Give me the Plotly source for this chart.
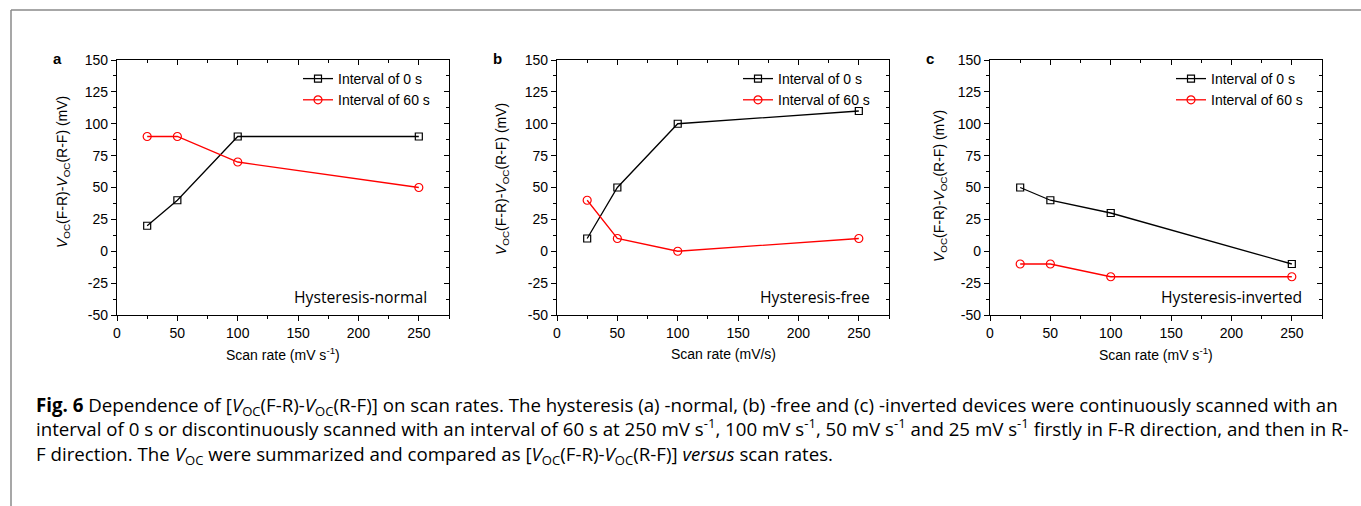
import plotly.graph_objects as go

W, H = 1361, 506

scan_rate = [25, 50, 100, 250]
normal_0s = [20, 40, 90, 90]
normal_60s = [90, 90, 70, 50]
free_0s = [10, 50, 100, 110]
free_60s = [40, 10, 0, 10]
inverted_0s = [50, 40, 30, -10]
inverted_60s = [-10, -10, -20, -20]

x_tick_vals = [0, 50, 100, 150, 200, 250]
x_tick_text = ["0", "50", "100", "150", "200", "250"]
y_tick_vals = [-50, -25, 0, 25, 50, 75, 100, 125, 150]
y_tick_text = ["-50", "-25", "0", "25", "50", "75", "100", "125", "150"]

panel_letters = ["a", "b", "c"]
panel_notes = ["Hysteresis-normal", "Hysteresis-free", "Hysteresis-inverted"]
x_titles = ["Scan rate (mV s<sup>-1</sup>)", "Scan rate (mV/s)", "Scan rate (mV s<sup>-1</sup>)"]
series_names = ["Interval of 0 s", "Interval of 60 s"]
y_title = "<i>V</i><sub>OC</sub>(F-R)-<i>V</i><sub>OC</sub>(R-F) (mV)"
x_range = [0, 275]
y_range = [-50, 150]

data = [(normal_0s, normal_60s), (free_0s, free_60s), (inverted_0s, inverted_60s)]

# pixel layout
left_px = [117, 557, 990]
plot_w = 332
top_px, bot_px = 60, 315
ytitle_x = [63, 502, 940]
ytitle_yc = [172, 179, 186]

def px(x):
    return x / W

def py(y):
    return 1 - y / H

FONT = "Arial, Liberation Sans, sans-serif"
CAP_FONT = "Open Sans, Noto Sans, sans-serif"

fig = go.Figure()
layout = dict(
    autosize=True, margin=dict(l=0, r=0, t=0, b=0, pad=0, autoexpand=False),
    paper_bgcolor="white", plot_bgcolor="white",
    font=dict(family=FONT, size=14, color="black"),
    showlegend=True,
)
annotations = []

for i in range(3):
    n = i + 1
    xa = "x" if n == 1 else f"x{n}"
    ya = "y" if n == 1 else f"y{n}"
    xo = f"x{n+3}"
    yo = f"y{n+3}"
    lg = "legend" if n == 1 else f"legend{n}"
    d0, d60 = data[i]
    fig.add_trace(go.Scatter(x=scan_rate, y=d0, mode="lines+markers", name=series_names[0],
                             xaxis=xa, yaxis=ya, legend=lg,
                             line=dict(color="black", width=1.3),
                             marker=dict(symbol="square-open", size=7, color="black", line=dict(width=1.2))))
    fig.add_trace(go.Scatter(x=scan_rate, y=d60, mode="lines+markers", name=series_names[1],
                             xaxis=xa, yaxis=ya, legend=lg,
                             line=dict(color="#FF0000", width=1.3),
                             marker=dict(symbol="circle-open", size=8, color="#FF0000", line=dict(width=1.2))))
    # invisible trace for mirrored tick axes
    fig.add_trace(go.Scatter(x=scan_rate, y=d0, mode="markers", xaxis=xo, yaxis=yo,
                             marker=dict(opacity=0), showlegend=False, hoverinfo="skip"))

    dom_x = [px(left_px[i]), px(left_px[i] + plot_w)]
    dom_y = [py(bot_px), py(top_px)]
    key_x = "xaxis" if n == 1 else f"xaxis{n}"
    key_y = "yaxis" if n == 1 else f"yaxis{n}"
    layout[key_x] = dict(domain=dom_x, anchor=ya, range=x_range, automargin=False,
                         tickmode="array", tickvals=x_tick_vals, ticktext=x_tick_text,
                         showgrid=False, zeroline=False, showline=True, linecolor="black", linewidth=1.3,
                         mirror=True, ticks="outside", ticklen=5, tickwidth=1.2, tickcolor="black",
                         minor=dict(dtick=25, tick0=0, ticks="outside", ticklen=3, tickwidth=1, tickcolor="black"),
                         tickfont=dict(size=14))
    layout[key_y] = dict(domain=dom_y, anchor=xa, range=y_range, automargin=False,
                         tickmode="array", tickvals=y_tick_vals, ticktext=y_tick_text,
                         showgrid=False, zeroline=False, showline=True, linecolor="black", linewidth=1.3,
                         mirror=True, ticks="outside", ticklen=5, tickwidth=1.2, tickcolor="black",
                         minor=dict(dtick=12.5, tick0=0, ticks="outside", ticklen=3, tickwidth=1, tickcolor="black"),
                         tickfont=dict(size=14))
    layout[f"xaxis{n+3}"] = dict(overlaying=xa, anchor=ya, side="top", range=x_range, automargin=False,
                                 tickmode="array", tickvals=x_tick_vals,
                                 showgrid=False, zeroline=False, showline=False, showticklabels=False,
                                 ticks="inside", ticklen=5, tickwidth=1.2, tickcolor="black",
                                 minor=dict(dtick=25, tick0=0, ticks="inside", ticklen=3, tickwidth=1, tickcolor="black"))
    layout[f"yaxis{n+3}"] = dict(overlaying=ya, anchor=xa, side="right", range=y_range, automargin=False,
                                 tickmode="array", tickvals=y_tick_vals,
                                 showgrid=False, zeroline=False, showline=False, showticklabels=False,
                                 ticks="inside", ticklen=5, tickwidth=1.2, tickcolor="black",
                                 minor=dict(dtick=12.5, tick0=0, ticks="inside", ticklen=3, tickwidth=1, tickcolor="black"))
    layout[lg] = dict(x=px(left_px[i] + 181), y=py(63), xanchor="left", yanchor="top",
                      bgcolor="rgba(0,0,0,0)", borderwidth=0, font=dict(size=14, family=FONT),
                      tracegroupgap=0, itemwidth=30)

    # panel letter
    annotations.append(dict(text="<b>" + panel_letters[i] + "</b>", x=px(left_px[i] - 60), y=py(58),
                            xref="paper", yref="paper", xanchor="center", yanchor="middle",
                            showarrow=False, font=dict(size=15, family=FONT)))
    # y title
    annotations.append(dict(text=y_title, x=px(ytitle_x[i]), y=py(ytitle_yc[i]), textangle=-90,
                            xref="paper", yref="paper", xanchor="center", yanchor="middle",
                            showarrow=False, font=dict(size=14, family=FONT)))
    # x title
    annotations.append(dict(text=x_titles[i], x=px(left_px[i] + plot_w / 2), y=py(354),
                            xref="paper", yref="paper", xanchor="center", yanchor="middle",
                            showarrow=False, font=dict(size=14, family=FONT)))
    # note
    note_right = [429, 872, 1304][i]
    annotations.append(dict(text=panel_notes[i], x=px(note_right), y=py(297),
                            xref="paper", yref="paper", xanchor="right", yanchor="middle",
                            showarrow=False, font=dict(size=15.7, family=CAP_FONT)))

V = "<i>V</i><sub>OC</sub>"
caption_lines = [
    "<b>Fig. 6</b> Dependence of [" + V + "(F-R)-" + V + "(R-F)] on scan rates. The hysteresis (a) -normal, (b) -free and (c) -inverted devices were continuously scanned with an",
    "interval of 0 s or discontinuously scanned with an interval of 60 s at 250 mV s<sup>-1</sup>, 100 mV s<sup>-1</sup>, 50 mV s<sup>-1</sup> and 25 mV s<sup>-1</sup> firstly in F-R direction, and then in R-",
    "F direction. The " + V + " were summarized and compared as [" + V + "(F-R)-" + V + "(R-F)] <i>versus</i> scan rates.",
]
annotations.append(dict(text="<br>".join(caption_lines), x=px(34), y=py(430), xref="paper", yref="paper",
                        xanchor="left", yanchor="middle", align="left", showarrow=False,
                        font=dict(size=18.7, family=CAP_FONT, color="black")))

layout["annotations"] = annotations
layout["shapes"] = [
    dict(type="line", xref="paper", yref="paper", x0=px(11), x1=1, y0=py(10), y1=py(10),
         line=dict(color="#8a8a8a", width=1.5)),
    dict(type="line", xref="paper", yref="paper", x0=px(11), x1=px(11), y0=py(10), y1=0,
         line=dict(color="#8a8a8a", width=1.5)),
]
fig.update_layout(**layout)

post = (
    "document.documentElement.style.margin='0';document.documentElement.style.padding='0';"
    "document.documentElement.style.overflow='hidden';"
    "document.body.style.margin='0';document.body.style.padding='0';document.body.style.overflow='hidden';"
    "var gd=document.getElementById('{plot_id}');gd.style.position='fixed';gd.style.top='0px';gd.style.left='0px';"
    "gd.style.width='100vw';gd.style.height='100vh';Plotly.Plots.resize(gd);"
)
fig.write_html("out.html", config={"displayModeBar": False, "responsive": True}, post_script=post,
               default_width="100vw", default_height="100vh")
